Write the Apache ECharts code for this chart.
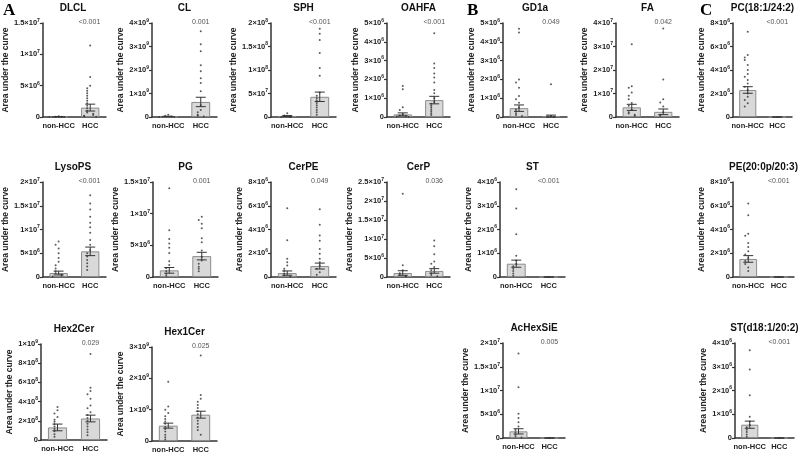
<!DOCTYPE html>
<html><head><meta charset="utf-8">
<script src="https://cdn.jsdelivr.net/npm/echarts@6/dist/echarts.min.js"></script>
<style>html,body{margin:0;padding:0;background:#fff}#c{width:800px;height:454px}</style>
</head><body><div id="c"></div>
<script>
const groups = ['non-HCC', 'HCC'];
const panelNames = ['DLCL','CL','SPH','OAHFA','GD1a','FA','PC(18:1/24:2)','LysoPS','PG','CerPE','CerP','ST','PE(20:0p/20:3)','Hex2Cer','Hex1Cer','AcHexSiE','ST(d18:1/20:2)'];
const pValues = ['<0.001','0.001','<0.001','<0.001','0.049','0.042','<0.001','<0.001','0.001','0.049','0.036','<0.001','<0.001','0.029','0.025','0.005','<0.001'];
const yMax  = [1.5e7,4e9,2e8,5e6,5e6,4e7,8e6,2e7,1.5e7,8e6,2.5e7,4e6,8e6,1e9,3e9,2e7,4e6];
const yStep = [5e6,1e9,5e7,1e6,1e6,1e7,2e6,5e6,5e6,2e6,5e6,1e6,2e6,2e8,1e9,5e6,1e6];

const meanNonHCC = [0.02e6,0.02e9,0.02e8,0.14e6,0.47e6,0.41e7,2.3e6,0.84e6,1.05e6,0.33e6,1.05e6,0.56e6,1.52e6,1.31e8,0.49e9,1.4e6,0.56e6];
const semNonHCC  = [0.01e6,0.01e9,0.01e8,0.08e6,0.17e6,0.13e7,0.28e6,0.4e6,0.45e6,0.18e6,0.6e6,0.15e6,0.28e6,0.35e8,0.08e9,0.55e6,0.15e6];
const meanHCC    = [1.5e6,0.64e9,0.43e8,0.9e6,0.05e6,0.22e7,0,5.4e6,3.3e6,0.92e6,1.6e6,0,0,2.24e8,0.84e9,0,0];
const semHCC     = [0.55e6,0.2e9,0.1e8,0.2e6,0.05e6,0.12e7,0,0.9e6,0.6e6,0.25e6,0.6e6,0,0,0.35e8,0.11e9,0,0];

const DLCL_non = [0.1e6,0.05e6,0.02e6,0,0,0];
const DLCL_hcc = [11.4e6,6.4e6,5.0e6,4.6e6,4.2e6,3.8e6,3.4e6,3.0e6,2.6e6,2.2e6,1.8e6,1.4e6,1.0e6,0.7e6,0.5e6,0.3e6,0.2e6,0.1e6,0.05e6];
const CL_non = [0.1e9,0.05e9,0.02e9,0.01e9,0,0];
const CL_hcc = [3.65e9,3.1e9,2.8e9,2.2e9,1.95e9,1.65e9,1.45e9,1.1e9,0.5e9,0.3e9,0.2e9,0.1e9,0.05e9,0.02e9];
const SPH_non = [0.08e8,0.03e8,0.01e8,0,0];
const SPH_hcc = [1.88e8,1.77e8,1.64e8,1.36e8,1.04e8,0.88e8,0.52e8,0.45e8,0.4e8,0.35e8,0.3e8,0.25e8,0.2e8,0.15e8,0.1e8,0.05e8];
const OAHFA_non = [1.65e6,1.47e6,0.52e6,0.37e6,0.15e6,0.08e6,0.04e6,0.02e6,0];
const OAHFA_hcc = [4.45e6,2.84e6,2.6e6,2.32e6,2.1e6,1.83e6,1.44e6,1.26e6,1.0e6,0.8e6,0.7e6,0.6e6,0.5e6,0.4e6,0.3e6,0.2e6,0.1e6];
const GD1a_non = [4.7e6,4.5e6,2.0e6,1.83e6,1.56e6,1.12e6,0.95e6,0.76e6,0.5e6,0.4e6,0.3e6,0.2e6,0.1e6,0.05e6];
const GD1a_hcc = [1.74e6,0.05e6,0.02e6,0];
const FA_non = [3.1e7,1.31e7,1.25e7,1.04e7,0.9e7,0.76e7,0.6e7,0.48e7,0.3e7,0.2e7,0.15e7,0.1e7,0.05e7];
const FA_hcc = [3.77e7,1.6e7,0.76e7,0.62e7,0.45e7,0.2e7,0.1e7,0.05e7];
const PC_non = [7.25e6,5.27e6,5.07e6,4.85e6,4.42e6,4.0e6,3.65e6,3.43e6,3.15e6,2.85e6,2.58e6,2.3e6,2.0e6,1.72e6,1.45e6,1.16e6,0.9e6];
const PC_hcc = [0];
const LysoPS_non = [7.5e6,6.8e6,6.0e6,5.0e6,4.0e6,3.2e6,2.5e6,1.8e6,1.2e6,0.8e6,0.5e6,0.3e6,0.1e6];
const LysoPS_hcc = [1.72e7,1.55e7,1.42e7,1.27e7,1.14e7,1.05e7,0.93e7,0.78e7,0.68e7,0.57e7,0.5e7,0.43e7,0.36e7,0.29e7,0.22e7,0.15e7];
const PG_non = [1.4e7,7.4e6,6.0e6,5.3e6,4.6e6,3.8e6,2.5e6,1.9e6,1.4e6,0.9e6,0.5e6,0.2e6];
const PG_hcc = [9.5e6,9.0e6,8.4e6,7.7e6,6.1e6,5.5e6,4.2e6,3.2e6,2.6e6,2.1e6,1.6e6,1.3e6,0.9e6];
const CerPE_non = [5.8e6,3.1e6,1.53e6,1.25e6,0.97e6,0.7e6,0.5e6,0.3e6,0.15e6,0.05e6];
const CerPE_hcc = [5.7e6,4.4e6,3.5e6,3.06e6,2.36e6,1.95e6,1.53e6,1.25e6,0.97e6,0.7e6,0.4e6,0.2e6];
const CerP_non = [2.19e7,3.1e6,1.75e6,1.0e6,0.6e6,0.3e6,0.1e6];
const CerP_hcc = [9.6e6,8.1e6,6.0e6,4.1e6,3.5e6,2.6e6,1.8e6,1.0e6,0.5e6,0.2e6];
const ST_non = [3.7e6,2.88e6,1.8e6,0.9e6,0.7e6,0.55e6,0.45e6,0.35e6,0.25e6,0.15e6,0.05e6];
const ST_hcc = [0];
const PE_non = [6.2e6,5.2e6,3.65e6,3.48e6,2.87e6,2.53e6,2.16e6,1.9e6,1.6e6,1.35e6,1.1e6,0.8e6,0.5e6];
const PE_hcc = [0];
const Hex2Cer_non = [3.45e8,3.1e8,2.76e8,2.4e8,2.1e8,1.9e8,1.65e8,1.4e8,1.15e8,0.9e8,0.6e8,0.35e8];
const Hex2Cer_hcc = [8.97e8,5.45e8,5.1e8,4.76e8,4.3e8,3.6e8,3.3e8,2.9e8,2.6e8,2.3e8,2.0e8,1.7e8,1.4e8,1.1e8,0.8e8,0.5e8];
const Hex1Cer_non = [1.89e9,1.1e9,1.0e9,0.89e9,0.79e9,0.7e9,0.62e9,0.55e9,0.45e9,0.38e9,0.3e9,0.2e9,0.12e9,0.05e9];
const Hex1Cer_hcc = [2.73e9,1.47e9,1.35e9,1.25e9,1.15e9,1.05e9,0.95e9,0.85e9,0.75e9,0.65e9,0.55e9,0.45e9,0.35e9,0.2e9];
const AcHexSiE_non = [1.78e7,1.07e7,5.1e6,4.2e6,3.3e6,2.4e6,1.7e6,1.2e6,0.7e6,0.3e6,0.1e6];
const AcHexSiE_hcc = [0];
const STd_non = [3.7e6,2.88e6,1.8e6,0.9e6,0.7e6,0.55e6,0.45e6,0.35e6,0.25e6,0.15e6,0.05e6];
const STd_hcc = [0];

const pointsNon = [DLCL_non,CL_non,SPH_non,OAHFA_non,GD1a_non,FA_non,PC_non,LysoPS_non,PG_non,CerPE_non,CerP_non,ST_non,PE_non,Hex2Cer_non,Hex1Cer_non,AcHexSiE_non,STd_non];
const pointsHCC = [DLCL_hcc,CL_hcc,SPH_hcc,OAHFA_hcc,GD1a_hcc,FA_hcc,PC_hcc,LysoPS_hcc,PG_hcc,CerPE_hcc,CerP_hcc,ST_hcc,PE_hcc,Hex2Cer_hcc,Hex1Cer_hcc,AcHexSiE_hcc,STd_hcc];

// layout: [axis left, grid top, axis right, grid height]
const layout = [
  [40,23,106,94],[152,23,217,94],[271,23,336,94],[387,23,450,94],[503,23,567,94],[616,23,679,94],[733,23,792,94],
  [40,182,106,95],[153,182,218,95],[271,182,336,95],[387,182,450,95],[500,182,565,95],[733,182,794,95],
  [41,344,107,96],[152,347,217,95],[503,343,565,95],[735,343,794,95]
];

function sci(v){
  if (v === 0) return '0';
  const e = Math.floor(Math.log10(v) + 1e-9);
  const m = +(v / Math.pow(10, e)).toFixed(2);
  return '{b|' + m + '×10}{s|' + e + '}';
}
// beeswarm-like horizontal spreading (display only)
const SPREAD = [0, -3, 3, -6, 6, -9, 9];
function swarm(vals, cat, max) {
  const placed = [];
  return vals.map(v => {
    const near = placed.filter(p => Math.abs(p - v) < max * 0.035).length;
    placed.push(v);
    return {value: [cat, v], symbolOffset: [SPREAD[near % SPREAD.length], 0]};
  });
}

const FONT = '"Liberation Sans", Arial, sans-serif';
const grid = [], xAxis = [], yAxis = [], series = [], graphic = [];
panelNames.forEach((name, i) => {
  const [l, t, r, h] = layout[i];
  const w = r - l;
  grid.push({left: l, top: t, width: w, height: h, containLabel: false});
  xAxis.push({
    type: 'category', gridIndex: i, data: groups, boundaryGap: true,
    axisLine: {lineStyle: {color: '#333', width: 1.5}},
    axisTick: {alignWithLabel: true, length: 3, lineStyle: {color: '#333', width: 1.2}},
    axisLabel: {fontFamily: FONT, fontWeight: 'bold', fontSize: 7.5, color: '#222', margin: 5, interval: 0}
  });
  yAxis.push({
    type: 'value', gridIndex: i, min: 0, max: yMax[i], interval: yStep[i],
    name: 'Area under the curve', nameLocation: 'middle', nameGap: 27,
    nameTextStyle: {fontFamily: FONT, fontWeight: 'bold', fontSize: 8.5, color: '#222'},
    splitLine: {show: false},
    axisLine: {show: true, lineStyle: {color: '#333', width: 1.5}},
    axisTick: {show: true, length: 3, lineStyle: {color: '#333', width: 1.2}},
    axisLabel: {margin: 3, formatter: sci, rich: {
      b: {fontFamily: FONT, fontWeight: 'bold', fontSize: 7.5, color: '#222', lineHeight: 10},
      s: {fontFamily: FONT, fontWeight: 'bold', fontSize: 5, color: '#222', lineHeight: 10, verticalAlign: 'top', padding: [0, 0, 3, 0]}
    }, fontFamily: FONT, fontWeight: 'bold', fontSize: 7.5, color: '#222'}
  });
  series.push({
    type: 'bar', xAxisIndex: i, yAxisIndex: i, barWidth: '58%',
    data: [meanNonHCC[i], meanHCC[i]],
    itemStyle: {color: '#d9d9d9', borderColor: '#8c8c8c', borderWidth: 1},
    silent: true, animation: false
  });
  series.push({
    type: 'scatter', xAxisIndex: i, yAxisIndex: i, symbolSize: 2, z: 5,
    data: swarm(pointsNon[i], 0, yMax[i]).concat(swarm(pointsHCC[i], 1, yMax[i])),
    itemStyle: {color: '#333'}, silent: true, animation: false
  });
  series.push({
    type: 'custom', xAxisIndex: i, yAxisIndex: i, z: 6, silent: true, animation: false,
    data: [[0, meanNonHCC[i], semNonHCC[i]], [1, meanHCC[i], semHCC[i]]],
    renderItem: (params, api) => {
      const x = api.value(0), m = api.value(1), s = api.value(2);
      const top = api.coord([x, m + s]);
      const bot = api.coord([x, Math.max(0, m - s)]);
      const cw = 5;
      const st = {stroke: '#333', lineWidth: 1};
      return {type: 'group', children: [
        {type: 'line', shape: {x1: top[0], y1: top[1], x2: bot[0], y2: bot[1]}, style: st},
        {type: 'line', shape: {x1: top[0] - cw, y1: top[1], x2: top[0] + cw, y2: top[1]}, style: st},
        {type: 'line', shape: {x1: bot[0] - cw, y1: bot[1], x2: bot[0] + cw, y2: bot[1]}, style: st}
      ]};
    }
  });
  graphic.push({type: 'text', x: l + w / 2, y: t - 15, style: {
    text: name, font: 'bold 10px ' + FONT, fill: '#111', textAlign: 'center', textVerticalAlign: 'middle'}});
  graphic.push({type: 'text', x: l + w * 0.75, y: t - 1, style: {
    text: pValues[i], font: '7px ' + FONT, fill: '#555', textAlign: 'center', textVerticalAlign: 'middle'}});
});
[['A', 3], ['B', 467], ['C', 700]].forEach(([txt, x]) => {
  graphic.push({type: 'text', x: x, y: 2, style: {text: txt, font: 'bold 17px "Liberation Serif", "Times New Roman", serif', fill: '#000'}});
});

const chart = echarts.init(document.getElementById('c'), null, {renderer: 'canvas'});
chart.setOption({animation: false, grid, xAxis, yAxis, series, graphic});
</script></body></html>
